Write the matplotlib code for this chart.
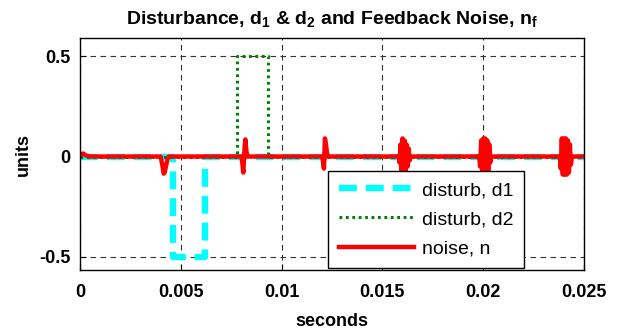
import matplotlib
matplotlib.use("Agg")
import matplotlib.pyplot as plt

plt.rcParams['font.family'] = ['Liberation Sans', 'DejaVu Sans']
plt.rcParams['mathtext.fontset'] = 'custom'
plt.rcParams['mathtext.rm'] = 'Liberation Sans:bold'
plt.rcParams['mathtext.bf'] = 'Liberation Sans:bold'
plt.rcParams['mathtext.it'] = 'Liberation Sans:bold'

# disturbance d1 (step down)
d1_t = [0.0, 0.00463, 0.00463, 0.0062, 0.0062, 0.025]
d1_v = [0.0, 0.0, -0.5, -0.5, 0.0, 0.0]

# disturbance d2 (step up)
d2_t = [0.0, 0.0078, 0.0078, 0.00935, 0.00935, 0.025]
d2_v = [0.0, 0.0, 0.5, 0.5, 0.0, 0.0]

# feedback noise n
n_t = [0.0, 0.00005, 0.00015, 0.0003, 0.0005,
       0.0040, 0.00408, 0.00415, 0.0042, 0.00428, 0.00435, 0.0044,
       0.0080, 0.00805, 0.0081, 0.00815, 0.0082, 0.00825, 0.0083, 0.0084,
       0.0120, 0.01205, 0.0121, 0.01215, 0.0122, 0.01225, 0.0123, 0.0124,
       0.0158, 0.01585, 0.0159, 0.01595, 0.0160, 0.01605, 0.0161, 0.01615, 0.0162, 0.01625, 0.0163, 0.01635, 0.0164,
       0.0198, 0.01985, 0.0199, 0.01995, 0.0200, 0.02005, 0.0201, 0.02015, 0.0202, 0.02025, 0.0203, 0.02035, 0.0204,
       0.0238, 0.02385, 0.0239, 0.02395, 0.0240, 0.02405, 0.0241, 0.02415, 0.0242, 0.02425, 0.0243, 0.02435, 0.0244,
       0.025]
n_v = [0.0, 0.01, 0.015, 0.005, 0.0,
       0.0, -0.04, -0.085, -0.08, -0.04, -0.01, 0.0,
       0.0, -0.03, -0.08, 0.02, 0.085, 0.03, 0.0, 0.0,
       0.0, -0.02, -0.06, 0.09, 0.06, 0.02, 0.0, 0.0,
       0.0, -0.03, 0.06, -0.07, 0.09, -0.08, 0.08, -0.07, 0.06, -0.05, 0.04, -0.02, 0.0,
       0.0, -0.05, 0.08, -0.08, 0.09, -0.08, 0.09, -0.08, 0.08, -0.07, 0.06, -0.03, 0.0,
       0.0, -0.06, 0.09, -0.09, 0.09, -0.09, 0.09, -0.09, 0.08, -0.08, 0.06, -0.04, 0.0,
       0.0]

x_ticks = [0, 0.005, 0.01, 0.015, 0.02, 0.025]
x_tick_labels = ['0', '0.005', '0.01', '0.015', '0.02', '0.025']
y_ticks = [-0.5, 0, 0.5]
y_tick_labels = ['-0.5', '0', '0.5']

fig = plt.figure(figsize=(6.31, 3.34), dpi=100)
ax = fig.add_axes([80/631, 1 - 270/334, 504/631, 232/334])

ax.plot(d1_t, d1_v, color='#00ffff', linestyle=(0, (2.8, 1.4)), linewidth=4.6, label='disturb, d1')
ax.plot(d2_t, d2_v, color='#008000', linestyle=(0, (0.9, 1.2)), linewidth=2.2, label='disturb, d2')
ax.plot(n_t, n_v, color='#ff0000', linewidth=3.2, label='noise, n')

ax.set_xlim(0, 0.025)
ax.set_ylim(-0.565, 0.59)
ax.set_xticks(x_ticks)
ax.set_xticklabels(x_tick_labels)
ax.set_yticks(y_ticks)
ax.set_yticklabels(y_tick_labels)
for lbl in ax.get_xticklabels() + ax.get_yticklabels():
    lbl.set_fontweight('bold')
    lbl.set_fontsize(13)
ax.tick_params(axis='x', direction='in', length=4, width=0.8, pad=10)
ax.tick_params(axis='y', direction='in', length=4, width=0.8, pad=7)
ax.grid(True, color='#333333', linestyle=(0, (5, 4)), linewidth=0.8)
for s in ax.spines.values():
    s.set_linewidth(1.0)
    s.set_color('black')

ax.set_xlabel('seconds', fontsize=13, fontweight='bold', labelpad=9)
ax.set_ylabel('units', fontsize=13, fontweight='bold', labelpad=5)
ax.set_title(r'Disturbance, $\mathbf{d_1}$ & $\mathbf{d_2}$ and Feedback Noise, $\mathbf{n_f}$',
             fontsize=14, fontweight='bold', pad=10)

leg = ax.legend(loc='lower left', bbox_to_anchor=(0.492, 0.0086), borderaxespad=0,
                fancybox=False, framealpha=1, edgecolor='black', fontsize=14,
                handlelength=3.85, handletextpad=0.42, labelspacing=0.59, borderpad=0.55)
leg.get_frame().set_linewidth(1.0)

fig.savefig('out.png', dpi=100)
